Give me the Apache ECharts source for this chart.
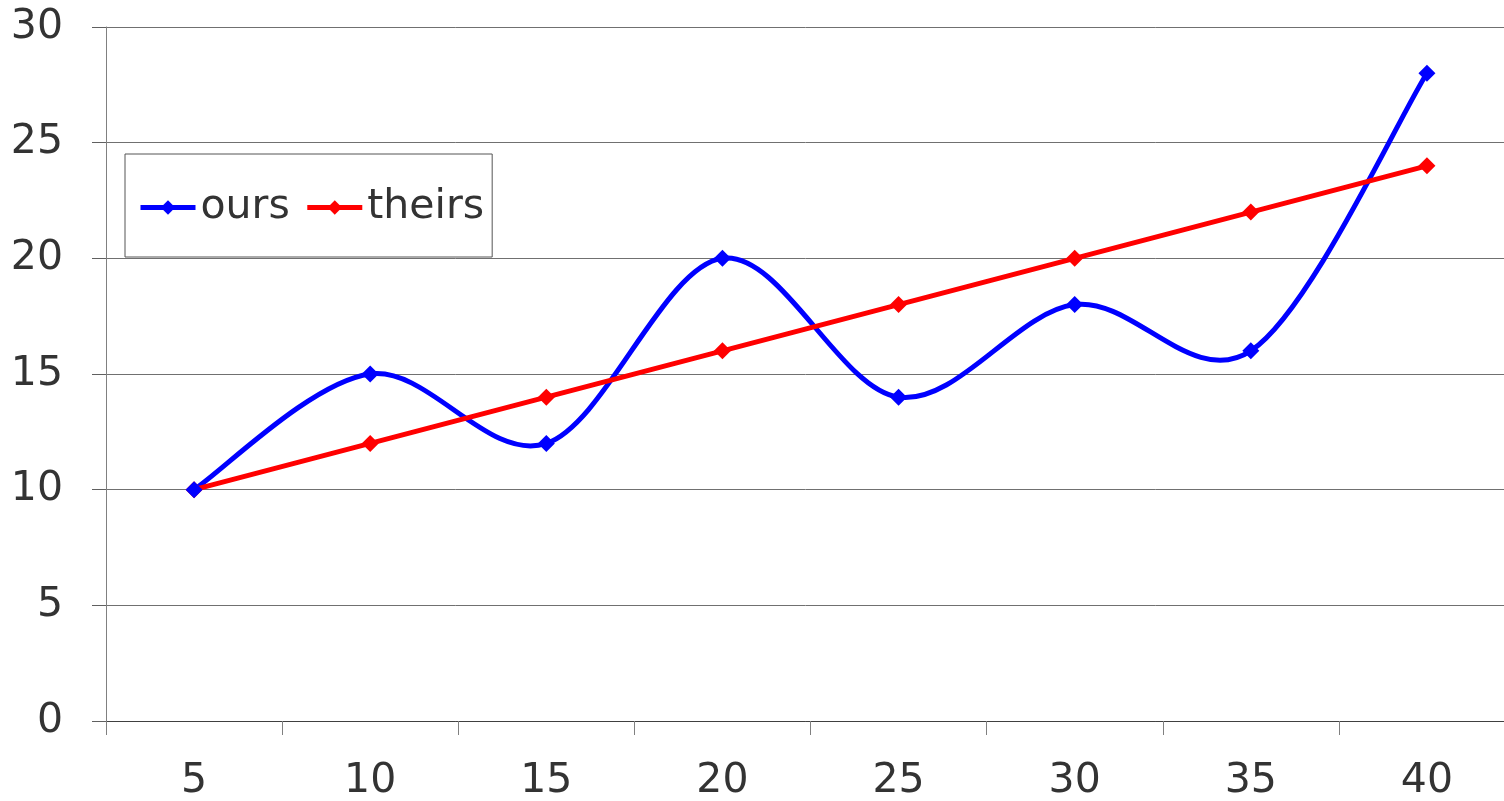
<!DOCTYPE html>
<html><head><meta charset="utf-8">
<script src="https://cdn.jsdelivr.net/npm/echarts@6/dist/echarts.min.js"></script>
<style>html,body{margin:0;padding:0;background:#fff}#c{width:1504px;height:801px}</style>
</head><body><div id="c"></div>
<script>
const categories = ['5','10','15','20','25','30','35','40'];
const ours = [10,15,12,20,14,18,16,28];
const theirs = [10,12,14,16,18,20,22,24];
const yTicks = {min:0, max:30, interval:5};

const chart = echarts.init(document.getElementById('c'), null, {renderer:'canvas'});
const font = 'DejaVu Sans';

// Smoothed curve through the 'ours' values (Catmull-Rom, like a spreadsheet smoothed line)
function renderSmooth(params, api) {
  const pts = ours.map((v, i) => api.coord([i, v]));
  let d = 'M' + pts[0][0] + ' ' + pts[0][1];
  for (let i = 0; i < pts.length - 1; i++) {
    const p0 = pts[Math.max(i - 1, 0)], p1 = pts[i], p2 = pts[i + 1], p3 = pts[Math.min(i + 2, pts.length - 1)];
    const c1 = [p1[0] + (p2[0] - p0[0]) / 6, p1[1] + (p2[1] - p0[1]) / 6];
    const c2 = [p2[0] - (p3[0] - p1[0]) / 6, p2[1] - (p3[1] - p1[1]) / 6];
    d += ' C' + c1[0] + ' ' + c1[1] + ' ' + c2[0] + ' ' + c2[1] + ' ' + p2[0] + ' ' + p2[1];
  }
  return {type:'path', shape:{pathData:d}, style:{fill:null, stroke:'#0000ff', lineWidth:5, lineJoin:'round'}};
}

chart.setOption({
  animation:false,
  backgroundColor:'#fff',
  grid:{left:106, width:1409, top:27, bottom:80, containLabel:false, outerBoundsMode:'none'},
  legend:{
    left:125, top:154, orient:'horizontal',
    padding:[33,8,29,13], itemGap:15, itemWidth:55, itemHeight:18,
    borderColor:'#555', borderWidth:1, backgroundColor:'#fff',
    lineStyle:{width:5},
    textStyle:{fontFamily:font, fontSize:41, color:'#333'},
    data:[
      {name:'ours', lineStyle:{color:'#0000ff', width:5, opacity:1}, itemStyle:{color:'#0000ff'}},
      {name:'theirs'}
    ]
  },
  xAxis:{
    type:'category', data:categories, boundaryGap:true,
    axisLine:{lineStyle:{color:'#404040', width:1}},
    axisTick:{show:true, length:14, lineStyle:{color:'#808080'}},
    axisLabel:{fontFamily:font, fontSize:41, color:'#333', margin:40},
    splitLine:{show:false}
  },
  yAxis:{
    type:'value', min:yTicks.min, max:yTicks.max, interval:yTicks.interval,
    axisLine:{show:true, lineStyle:{color:'#808080', width:1}},
    axisTick:{show:true, length:14, lineStyle:{color:'#606060'}},
    axisLabel:{fontFamily:font, fontSize:41, color:'#333', margin:43},
    splitLine:{show:true, lineStyle:{color:'#707070', width:1}}
  },
  series:[
    {name:'oursCurve', type:'custom', coordinateSystem:'cartesian2d', data:[[0, ours[0]]],
     renderItem:renderSmooth, silent:true, z:2},
    {name:'theirs', type:'line', data:theirs, smooth:false, symbol:'diamond', symbolSize:17,
     lineStyle:{color:'#ff0000', width:5}, itemStyle:{color:'#ff0000'}, z:3},
    {name:'ours', type:'line', data:ours, symbol:'diamond', symbolSize:17,
     lineStyle:{color:'#0000ff', width:5, opacity:0}, itemStyle:{color:'#0000ff'}, z:4}
  ]
});
</script></body></html>
